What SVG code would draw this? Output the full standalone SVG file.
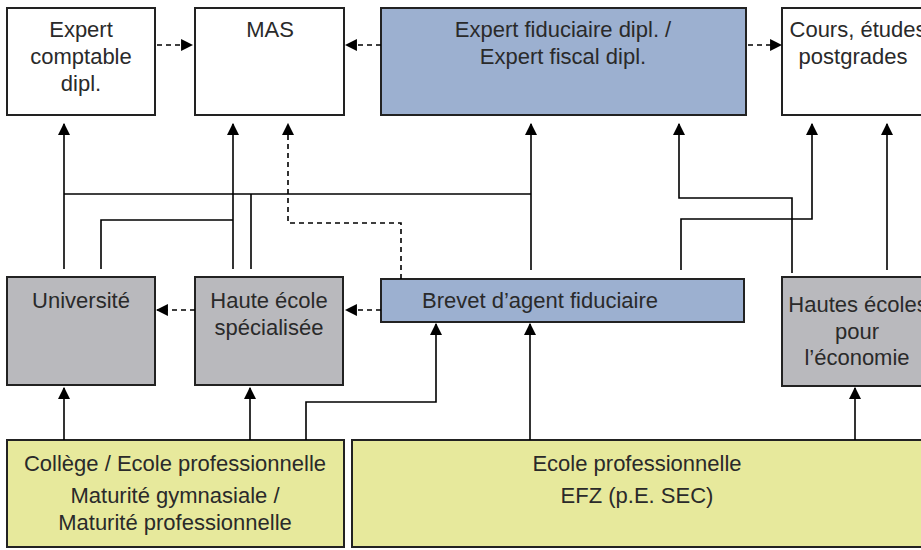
<svg xmlns="http://www.w3.org/2000/svg" width="921" height="550" viewBox="0 0 921 550">
<defs>
<marker id="ah" markerUnits="userSpaceOnUse" markerWidth="12" markerHeight="12" refX="10" refY="5.5" orient="auto" viewBox="0 0 11 11">
<path d="M0,0 L11,5.5 L0,11 z" fill="#000"/>
</marker>
</defs>
<style>
.box{stroke:#222;stroke-width:2}
.white{fill:#fff}
.blue{fill:#9cb0d0}
.gray{fill:#b9b9bd}
.yellow{fill:#e7e99c}
text{font-family:"Liberation Sans",Arial,sans-serif;font-size:22px;fill:#2a2a2a;text-anchor:middle}
.c{fill:none;stroke:#000;stroke-width:1.6}
.d{fill:none;stroke:#000;stroke-width:1.6;stroke-dasharray:5 4}
.a{marker-end:url(#ah)}
</style>
<rect width="921" height="550" fill="#fff"/>

<g id="expert-comptable">
<rect class="box white" x="7" y="8" width="148" height="107"/>
<text x="81" y="37">Expert</text>
<text x="81" y="64">comptable</text>
<text x="81" y="91">dipl.</text>
</g>
<g id="mas">
<rect class="box white" x="195" y="8" width="149" height="107"/>
<text x="270" y="37">MAS</text>
</g>
<g id="expert-fiduciaire">
<rect class="box blue" x="381" y="8" width="365" height="107"/>
<text x="563" y="37">Expert fiduciaire dipl. /</text>
<text x="563" y="64">Expert fiscal dipl.</text>
</g>
<g id="cours">
<rect class="box white" x="782" y="8" width="150" height="107"/>
<text x="858" y="37">Cours, études</text>
<text x="853" y="64">postgrades</text>
</g>

<g id="universite">
<rect class="box gray" x="7" y="277" width="148" height="108"/>
<text x="81" y="308">Université</text>
</g>
<g id="haute-ecole">
<rect class="box gray" x="195" y="277" width="148" height="108"/>
<text x="269" y="308">Haute école</text>
<text x="269" y="335">spécialisée</text>
</g>
<g id="brevet">
<rect class="box blue" x="381" y="279" width="363" height="43"/>
<text x="540" y="308">Brevet d’agent fiduciaire</text>
</g>
<g id="hautes-ecoles">
<rect class="box gray" x="782" y="277" width="150" height="109"/>
<text x="858" y="312">Hautes écoles</text>
<text x="857" y="339">pour</text>
<text x="857" y="365">l’économie</text>
</g>

<g id="college">
<rect class="box yellow" x="7" y="440" width="337" height="107"/>
<text x="175" y="471">Collège / Ecole professionnelle</text>
<text x="175" y="503">Maturité gymnasiale /</text>
<text x="175" y="530">Maturité professionnelle</text>
</g>
<g id="ecole-pro">
<rect class="box yellow" x="352" y="440" width="580" height="107"/>
<text x="637" y="471">Ecole professionnelle</text>
<text x="637" y="503">EFZ (p.E. SEC)</text>
</g>

<g id="connectors">
<path class="d a" d="M157,45 H192"/>
<path class="d a" d="M381,45 H346"/>
<path class="d a" d="M748,45 H781"/>
<path class="d a" d="M195,310 H157"/>
<path class="d a" d="M381,310 H346"/>
<path class="c a" d="M64,269 V124"/>
<path class="c" d="M64,194 H531"/>
<path class="c a" d="M531,270 V124"/>
<path class="c" d="M101,269 V220 H233"/>
<path class="c a" d="M233,269 V124"/>
<path class="c" d="M251,269 V194"/>
<path class="d a" d="M401,279 V223 H288 V124"/>
<path class="c a" d="M681,270 V219 H812 V124"/>
<path class="c a" d="M792,273 V198 H679 V124"/>
<path class="c a" d="M887,270 V124"/>
<path class="c a" d="M64,440 V388"/>
<path class="c a" d="M250,440 V388"/>
<path class="c a" d="M306,440 V402 H436 V324"/>
<path class="c a" d="M530,440 V324"/>
<path class="c a" d="M855,440 V388"/>
</g>
</svg>
